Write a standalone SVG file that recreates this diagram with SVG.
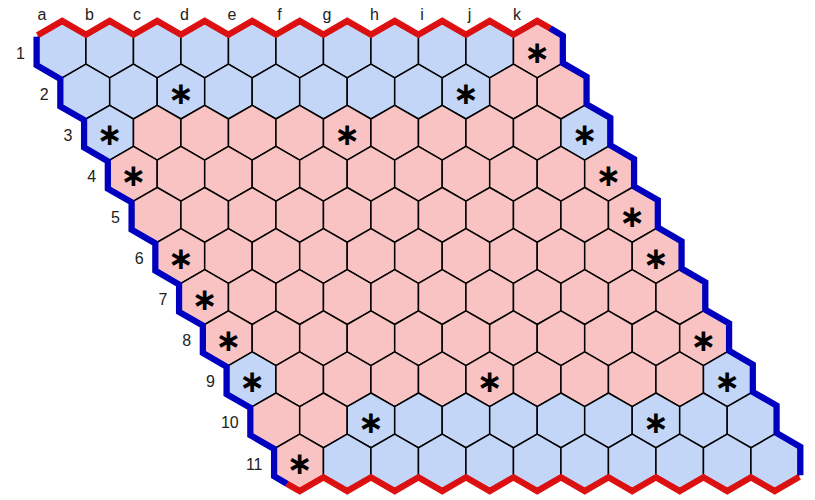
<svg xmlns="http://www.w3.org/2000/svg" xmlns:xlink="http://www.w3.org/1999/xlink" width="815" height="500" viewBox="0 0 815 500">
<style>
.b{fill:#c3d6f7;stroke:#000;stroke-width:1.5}
.r{fill:#f9c3c3;stroke:#000;stroke-width:1.5}
.s{font-family:"DejaVu Sans",sans-serif;font-weight:bold;font-size:31px;text-anchor:middle;fill:#000}
.l{font-family:"Liberation Sans",Arial,sans-serif;font-size:16px;fill:#222}
.t{text-anchor:middle}
.n{text-anchor:end}
.er{fill:none;stroke:#dd1111;stroke-linejoin:miter}
.eb{fill:none;stroke:#0000c0;stroke-linejoin:miter}
.w1{stroke-width:10}
.w2{stroke-width:2.5}
</style>
<defs>
<polygon id="h" points="0,-27.4 23.75,-13.7 23.75,13.7 0,27.4 -23.75,13.7 -23.75,-13.7"/>
<path id="pt" d="M-23.75,-13.7 L0,-27.4 L23.75,-13.7 L47.5,-27.4 L71.25,-13.7 L95,-27.4 L118.75,-13.7 L142.5,-27.4 L166.25,-13.7 L190,-27.4 L213.75,-13.7 L237.5,-27.4 L261.25,-13.7 L285,-27.4 L308.75,-13.7 L332.5,-27.4 L356.25,-13.7 L380,-27.4 L403.75,-13.7 L427.5,-27.4 L451.25,-13.7 L475,-27.4 L486.9,-20.55"/>
<path id="pr" d="M486.9,-20.55 L498.75,-13.7 L498.75,13.7 L522.5,27.4 L522.5,54.8 L546.25,68.5 L546.25,95.9 L570,109.6 L570,137 L593.75,150.7 L593.75,178.1 L617.5,191.8 L617.5,219.2 L641.25,232.9 L641.25,260.3 L665,274 L665,301.4 L688.75,315.1 L688.75,342.5 L712.5,356.2 L712.5,383.6 L736.25,397.3 L736.25,424.7"/>
<path id="pb" d="M736.25,424.7 L712.5,438.4 L688.75,424.7 L665,438.4 L641.25,424.7 L617.5,438.4 L593.75,424.7 L570,438.4 L546.25,424.7 L522.5,438.4 L498.75,424.7 L475,438.4 L451.25,424.7 L427.5,438.4 L403.75,424.7 L380,438.4 L356.25,424.7 L332.5,438.4 L308.75,424.7 L285,438.4 L261.25,424.7 L237.5,438.4 L225.6,431.55"/>
<path id="pl" d="M225.6,431.55 L213.75,424.7 L213.75,397.3 L190,383.6 L190,356.2 L166.25,342.5 L166.25,315.1 L142.5,301.4 L142.5,274 L118.75,260.3 L118.75,232.9 L95,219.2 L95,191.8 L71.25,178.1 L71.25,150.7 L47.5,137 L47.5,109.6 L23.75,95.9 L23.75,68.5 L0,54.8 L0,27.4 L-23.75,13.7 L-23.75,-13.7"/>
</defs>
<g id="labels">
<text class="l t" x="42" y="20">a</text><text class="l t" x="89.5" y="20">b</text><text class="l t" x="137" y="20">c</text><text class="l t" x="184.5" y="20">d</text><text class="l t" x="232" y="20">e</text><text class="l t" x="279.5" y="20">f</text><text class="l t" x="327" y="20">g</text><text class="l t" x="374.5" y="20">h</text><text class="l t" x="422" y="20">i</text><text class="l t" x="469.5" y="20">j</text><text class="l t" x="517" y="20">k</text>
<text class="l n" x="25" y="58.5">1</text><text class="l n" x="48.75" y="99.6">2</text><text class="l n" x="72.5" y="140.7">3</text><text class="l n" x="96.25" y="181.8">4</text><text class="l n" x="120" y="222.9">5</text><text class="l n" x="143.75" y="264">6</text><text class="l n" x="167.5" y="305.1">7</text><text class="l n" x="191.25" y="346.2">8</text><text class="l n" x="215" y="387.3">9</text><text class="l n" x="238.75" y="428.4">10</text><text class="l n" x="262.5" y="469.5">11</text>
</g>
<g transform="translate(62.2,50.5)">
<g id="edges-under">
<use xlink:href="#pt" class="er w1"/><use xlink:href="#pb" class="er w1"/><use xlink:href="#pr" class="eb w1"/><use xlink:href="#pl" class="eb w1"/>
</g>
<g id="row1">
<g id="a1"><use xlink:href="#h" class="b" x="0" y="0"/></g>
<g id="b1"><use xlink:href="#h" class="b" x="47.5" y="0"/></g>
<g id="c1"><use xlink:href="#h" class="b" x="95" y="0"/></g>
<g id="d1"><use xlink:href="#h" class="b" x="142.5" y="0"/></g>
<g id="e1"><use xlink:href="#h" class="b" x="190" y="0"/></g>
<g id="f1"><use xlink:href="#h" class="b" x="237.5" y="0"/></g>
<g id="g1"><use xlink:href="#h" class="b" x="285" y="0"/></g>
<g id="h1"><use xlink:href="#h" class="b" x="332.5" y="0"/></g>
<g id="i1"><use xlink:href="#h" class="b" x="380" y="0"/></g>
<g id="j1"><use xlink:href="#h" class="b" x="427.5" y="0"/></g>
<g id="k1"><use xlink:href="#h" class="r" x="475" y="0"/><text class="s" x="475" y="12.5">∗</text></g>
</g>
<g id="row2">
<g id="a2"><use xlink:href="#h" class="b" x="23.75" y="41.1"/></g>
<g id="b2"><use xlink:href="#h" class="b" x="71.25" y="41.1"/></g>
<g id="c2"><use xlink:href="#h" class="b" x="118.75" y="41.1"/><text class="s" x="118.75" y="53.6">∗</text></g>
<g id="d2"><use xlink:href="#h" class="b" x="166.25" y="41.1"/></g>
<g id="e2"><use xlink:href="#h" class="b" x="213.75" y="41.1"/></g>
<g id="f2"><use xlink:href="#h" class="b" x="261.25" y="41.1"/></g>
<g id="g2"><use xlink:href="#h" class="b" x="308.75" y="41.1"/></g>
<g id="h2"><use xlink:href="#h" class="b" x="356.25" y="41.1"/></g>
<g id="i2"><use xlink:href="#h" class="b" x="403.75" y="41.1"/><text class="s" x="403.75" y="53.6">∗</text></g>
<g id="j2"><use xlink:href="#h" class="r" x="451.25" y="41.1"/></g>
<g id="k2"><use xlink:href="#h" class="r" x="498.75" y="41.1"/></g>
</g>
<g id="row3">
<g id="a3"><use xlink:href="#h" class="b" x="47.5" y="82.2"/><text class="s" x="47.5" y="94.7">∗</text></g>
<g id="b3"><use xlink:href="#h" class="r" x="95" y="82.2"/></g>
<g id="c3"><use xlink:href="#h" class="r" x="142.5" y="82.2"/></g>
<g id="d3"><use xlink:href="#h" class="r" x="190" y="82.2"/></g>
<g id="e3"><use xlink:href="#h" class="r" x="237.5" y="82.2"/></g>
<g id="f3"><use xlink:href="#h" class="r" x="285" y="82.2"/><text class="s" x="285" y="94.7">∗</text></g>
<g id="g3"><use xlink:href="#h" class="r" x="332.5" y="82.2"/></g>
<g id="h3"><use xlink:href="#h" class="r" x="380" y="82.2"/></g>
<g id="i3"><use xlink:href="#h" class="r" x="427.5" y="82.2"/></g>
<g id="j3"><use xlink:href="#h" class="r" x="475" y="82.2"/></g>
<g id="k3"><use xlink:href="#h" class="b" x="522.5" y="82.2"/><text class="s" x="522.5" y="94.7">∗</text></g>
</g>
<g id="row4">
<g id="a4"><use xlink:href="#h" class="r" x="71.25" y="123.3"/><text class="s" x="71.25" y="135.8">∗</text></g>
<g id="b4"><use xlink:href="#h" class="r" x="118.75" y="123.3"/></g>
<g id="c4"><use xlink:href="#h" class="r" x="166.25" y="123.3"/></g>
<g id="d4"><use xlink:href="#h" class="r" x="213.75" y="123.3"/></g>
<g id="e4"><use xlink:href="#h" class="r" x="261.25" y="123.3"/></g>
<g id="f4"><use xlink:href="#h" class="r" x="308.75" y="123.3"/></g>
<g id="g4"><use xlink:href="#h" class="r" x="356.25" y="123.3"/></g>
<g id="h4"><use xlink:href="#h" class="r" x="403.75" y="123.3"/></g>
<g id="i4"><use xlink:href="#h" class="r" x="451.25" y="123.3"/></g>
<g id="j4"><use xlink:href="#h" class="r" x="498.75" y="123.3"/></g>
<g id="k4"><use xlink:href="#h" class="r" x="546.25" y="123.3"/><text class="s" x="546.25" y="135.8">∗</text></g>
</g>
<g id="row5">
<g id="a5"><use xlink:href="#h" class="r" x="95" y="164.4"/></g>
<g id="b5"><use xlink:href="#h" class="r" x="142.5" y="164.4"/></g>
<g id="c5"><use xlink:href="#h" class="r" x="190" y="164.4"/></g>
<g id="d5"><use xlink:href="#h" class="r" x="237.5" y="164.4"/></g>
<g id="e5"><use xlink:href="#h" class="r" x="285" y="164.4"/></g>
<g id="f5"><use xlink:href="#h" class="r" x="332.5" y="164.4"/></g>
<g id="g5"><use xlink:href="#h" class="r" x="380" y="164.4"/></g>
<g id="h5"><use xlink:href="#h" class="r" x="427.5" y="164.4"/></g>
<g id="i5"><use xlink:href="#h" class="r" x="475" y="164.4"/></g>
<g id="j5"><use xlink:href="#h" class="r" x="522.5" y="164.4"/></g>
<g id="k5"><use xlink:href="#h" class="r" x="570" y="164.4"/><text class="s" x="570" y="176.9">∗</text></g>
</g>
<g id="row6">
<g id="a6"><use xlink:href="#h" class="r" x="118.75" y="205.5"/><text class="s" x="118.75" y="218">∗</text></g>
<g id="b6"><use xlink:href="#h" class="r" x="166.25" y="205.5"/></g>
<g id="c6"><use xlink:href="#h" class="r" x="213.75" y="205.5"/></g>
<g id="d6"><use xlink:href="#h" class="r" x="261.25" y="205.5"/></g>
<g id="e6"><use xlink:href="#h" class="r" x="308.75" y="205.5"/></g>
<g id="f6"><use xlink:href="#h" class="r" x="356.25" y="205.5"/></g>
<g id="g6"><use xlink:href="#h" class="r" x="403.75" y="205.5"/></g>
<g id="h6"><use xlink:href="#h" class="r" x="451.25" y="205.5"/></g>
<g id="i6"><use xlink:href="#h" class="r" x="498.75" y="205.5"/></g>
<g id="j6"><use xlink:href="#h" class="r" x="546.25" y="205.5"/></g>
<g id="k6"><use xlink:href="#h" class="r" x="593.75" y="205.5"/><text class="s" x="593.75" y="218">∗</text></g>
</g>
<g id="row7">
<g id="a7"><use xlink:href="#h" class="r" x="142.5" y="246.6"/><text class="s" x="142.5" y="259.1">∗</text></g>
<g id="b7"><use xlink:href="#h" class="r" x="190" y="246.6"/></g>
<g id="c7"><use xlink:href="#h" class="r" x="237.5" y="246.6"/></g>
<g id="d7"><use xlink:href="#h" class="r" x="285" y="246.6"/></g>
<g id="e7"><use xlink:href="#h" class="r" x="332.5" y="246.6"/></g>
<g id="f7"><use xlink:href="#h" class="r" x="380" y="246.6"/></g>
<g id="g7"><use xlink:href="#h" class="r" x="427.5" y="246.6"/></g>
<g id="h7"><use xlink:href="#h" class="r" x="475" y="246.6"/></g>
<g id="i7"><use xlink:href="#h" class="r" x="522.5" y="246.6"/></g>
<g id="j7"><use xlink:href="#h" class="r" x="570" y="246.6"/></g>
<g id="k7"><use xlink:href="#h" class="r" x="617.5" y="246.6"/></g>
</g>
<g id="row8">
<g id="a8"><use xlink:href="#h" class="r" x="166.25" y="287.7"/><text class="s" x="166.25" y="300.2">∗</text></g>
<g id="b8"><use xlink:href="#h" class="r" x="213.75" y="287.7"/></g>
<g id="c8"><use xlink:href="#h" class="r" x="261.25" y="287.7"/></g>
<g id="d8"><use xlink:href="#h" class="r" x="308.75" y="287.7"/></g>
<g id="e8"><use xlink:href="#h" class="r" x="356.25" y="287.7"/></g>
<g id="f8"><use xlink:href="#h" class="r" x="403.75" y="287.7"/></g>
<g id="g8"><use xlink:href="#h" class="r" x="451.25" y="287.7"/></g>
<g id="h8"><use xlink:href="#h" class="r" x="498.75" y="287.7"/></g>
<g id="i8"><use xlink:href="#h" class="r" x="546.25" y="287.7"/></g>
<g id="j8"><use xlink:href="#h" class="r" x="593.75" y="287.7"/></g>
<g id="k8"><use xlink:href="#h" class="r" x="641.25" y="287.7"/><text class="s" x="641.25" y="300.2">∗</text></g>
</g>
<g id="row9">
<g id="a9"><use xlink:href="#h" class="b" x="190" y="328.8"/><text class="s" x="190" y="341.3">∗</text></g>
<g id="b9"><use xlink:href="#h" class="r" x="237.5" y="328.8"/></g>
<g id="c9"><use xlink:href="#h" class="r" x="285" y="328.8"/></g>
<g id="d9"><use xlink:href="#h" class="r" x="332.5" y="328.8"/></g>
<g id="e9"><use xlink:href="#h" class="r" x="380" y="328.8"/></g>
<g id="f9"><use xlink:href="#h" class="r" x="427.5" y="328.8"/><text class="s" x="427.5" y="341.3">∗</text></g>
<g id="g9"><use xlink:href="#h" class="r" x="475" y="328.8"/></g>
<g id="h9"><use xlink:href="#h" class="r" x="522.5" y="328.8"/></g>
<g id="i9"><use xlink:href="#h" class="r" x="570" y="328.8"/></g>
<g id="j9"><use xlink:href="#h" class="r" x="617.5" y="328.8"/></g>
<g id="k9"><use xlink:href="#h" class="b" x="665" y="328.8"/><text class="s" x="665" y="341.3">∗</text></g>
</g>
<g id="row10">
<g id="a10"><use xlink:href="#h" class="r" x="213.75" y="369.9"/></g>
<g id="b10"><use xlink:href="#h" class="r" x="261.25" y="369.9"/></g>
<g id="c10"><use xlink:href="#h" class="b" x="308.75" y="369.9"/><text class="s" x="308.75" y="382.4">∗</text></g>
<g id="d10"><use xlink:href="#h" class="b" x="356.25" y="369.9"/></g>
<g id="e10"><use xlink:href="#h" class="b" x="403.75" y="369.9"/></g>
<g id="f10"><use xlink:href="#h" class="b" x="451.25" y="369.9"/></g>
<g id="g10"><use xlink:href="#h" class="b" x="498.75" y="369.9"/></g>
<g id="h10"><use xlink:href="#h" class="b" x="546.25" y="369.9"/></g>
<g id="i10"><use xlink:href="#h" class="b" x="593.75" y="369.9"/><text class="s" x="593.75" y="382.4">∗</text></g>
<g id="j10"><use xlink:href="#h" class="b" x="641.25" y="369.9"/></g>
<g id="k10"><use xlink:href="#h" class="b" x="688.75" y="369.9"/></g>
</g>
<g id="row11">
<g id="a11"><use xlink:href="#h" class="r" x="237.5" y="411"/><text class="s" x="237.5" y="423.5">∗</text></g>
<g id="b11"><use xlink:href="#h" class="b" x="285" y="411"/></g>
<g id="c11"><use xlink:href="#h" class="b" x="332.5" y="411"/></g>
<g id="d11"><use xlink:href="#h" class="b" x="380" y="411"/></g>
<g id="e11"><use xlink:href="#h" class="b" x="427.5" y="411"/></g>
<g id="f11"><use xlink:href="#h" class="b" x="475" y="411"/></g>
<g id="g11"><use xlink:href="#h" class="b" x="522.5" y="411"/></g>
<g id="h11"><use xlink:href="#h" class="b" x="570" y="411"/></g>
<g id="i11"><use xlink:href="#h" class="b" x="617.5" y="411"/></g>
<g id="j11"><use xlink:href="#h" class="b" x="665" y="411"/></g>
<g id="k11"><use xlink:href="#h" class="b" x="712.5" y="411"/></g>
</g>
<g id="edges-over">
<use xlink:href="#pt" class="er w2"/><use xlink:href="#pb" class="er w2"/><use xlink:href="#pr" class="eb w2"/><use xlink:href="#pl" class="eb w2"/>
</g>
</g>
</svg>
